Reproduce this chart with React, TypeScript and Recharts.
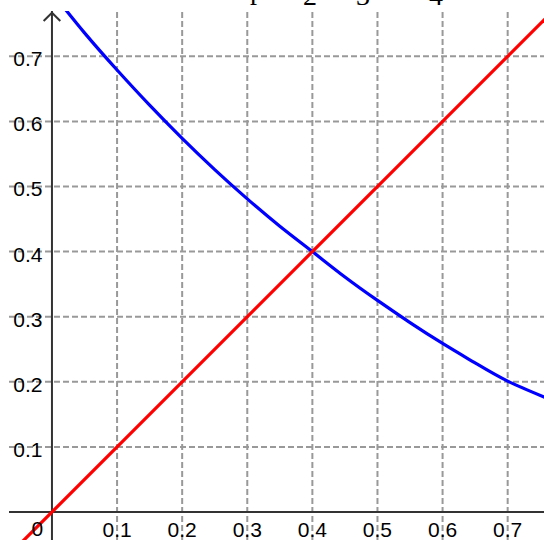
import React from 'react';
import { LineChart, Line, XAxis, YAxis, ReferenceLine, ReferenceDot } from 'recharts';

const gridTicks = [0.1, 0.2, 0.3, 0.4, 0.5, 0.6, 0.7];
const xTickLabels = ['0.1', '0.2', '0.3', '0.4', '0.5', '0.6', '0.7'];
const yTickLabels = ['0.1', '0.2', '0.3', '0.4', '0.5', '0.6', '0.7'];
const originLabel = '0';

const blueX = [0, 0.05, 0.1, 0.15, 0.2, 0.25, 0.3, 0.35, 0.4, 0.45, 0.5, 0.55, 0.6, 0.65, 0.7, 0.76];
const blueY = [0.798, 0.736, 0.679, 0.625, 0.574, 0.526, 0.481, 0.439, 0.4, 0.361, 0.325, 0.291, 0.259, 0.229, 0.201, 0.175];

const redX = [-0.1, 0.8];
const redY = [-0.1, 0.8];

const topGlyphs = ['p', '2', '3', '4'];

const X_MIN = -0.066;
const X_MAX = 0.7558;
const Y_MIN = -0.043;
const Y_MAX = 0.7696;

const blueData = blueX.map((x, i) => ({ x, y: blueY[i] }));
const redData = redX.map((x, i) => ({ x, y: redY[i] }));

const FONT = 'Liberation Sans, Arial, sans-serif';
const SERIF = 'Liberation Serif, Times New Roman, serif';
const GRID = '#999999';
const AXIS = '#333333';

export default function App() {
  const arrowTip = 0.767;
  const arm = 0.0128;
  return (
    <div style={{ position: 'absolute', left: 0, top: 0, width: 544, height: 540, background: '#fff' }}>
      <LineChart width={544} height={540} margin={{ top: 11, right: 0, bottom: 0, left: 9 }}>
        <XAxis type="number" dataKey="x" domain={[X_MIN, X_MAX]} allowDataOverflow hide />
        <YAxis type="number" dataKey="y" domain={[Y_MIN, Y_MAX]} allowDataOverflow hide />
        {gridTicks.map((t) => (
          <ReferenceLine key={'gx' + t} x={t} stroke={GRID} strokeWidth={2} strokeDasharray="6 3" />
        ))}
        {gridTicks.map((t) => (
          <ReferenceLine key={'gy' + t} y={t} stroke={GRID} strokeWidth={2} strokeDasharray="6 3" />
        ))}
        <ReferenceLine x={0} stroke={AXIS} strokeWidth={2} />
        <ReferenceLine y={0} stroke={AXIS} strokeWidth={2} />
        <ReferenceLine
          segment={[{ x: -arm, y: arrowTip - arm }, { x: 0, y: arrowTip }]}
          stroke={AXIS}
          strokeWidth={2}
          ifOverflow="visible"
        />
        <ReferenceLine
          segment={[{ x: arm, y: arrowTip - arm }, { x: 0, y: arrowTip }]}
          stroke={AXIS}
          strokeWidth={2}
          ifOverflow="visible"
        />
        {gridTicks.map((t, i) => (
          <ReferenceDot
            key={'lx' + t}
            x={t}
            y={0}
            r={0}
            fill="none"
            stroke="none"
            label={{ value: xTickLabels[i], position: 'bottom', offset: 10, fill: '#000', fontSize: 21, fontFamily: FONT }}
          />
        ))}
        {gridTicks.map((t, i) => (
          <ReferenceDot
            key={'ly' + t}
            x={0}
            y={t}
            r={0}
            fill="none"
            stroke="none"
            label={{ value: yTickLabels[i], position: 'left', offset: 9.5, dy: 2.5, fill: '#000', fontSize: 21, fontFamily: FONT }}
          />
        ))}
        <ReferenceDot
          x={0}
          y={0}
          r={0}
          fill="none"
          stroke="none"
          label={{ value: originLabel, position: 'bottom', offset: 9, dx: -14.5, fill: '#000', fontSize: 21, fontFamily: FONT }}
        />
        <Line data={blueData} dataKey="y" type="natural" stroke="#0000ff" strokeWidth={3.2} dot={false} isAnimationActive={false} />
        <Line data={redData} dataKey="y" type="linear" stroke="#ff0000" strokeWidth={3.2} dot={false} isAnimationActive={false} />
      </LineChart>
      <svg
        width={544}
        height={11}
        style={{ position: 'absolute', left: 0, top: 0, pointerEvents: 'none' }}
      >
        <text x={250} y={-1} fontFamily={SERIF} fontSize={28} fill="#000">
          {topGlyphs[0]}
        </text>
        <text x={310} y={5} textAnchor="middle" fontFamily={SERIF} fontSize={28} fill="#000">
          {topGlyphs[1]}
        </text>
        <text x={363} y={5} textAnchor="middle" fontFamily={SERIF} fontSize={28} fill="#000">
          {topGlyphs[2]}
        </text>
        <text x={436} y={5} textAnchor="middle" fontFamily={SERIF} fontSize={28} fill="#000">
          {topGlyphs[3]}
        </text>
      </svg>
    </div>
  );
}
